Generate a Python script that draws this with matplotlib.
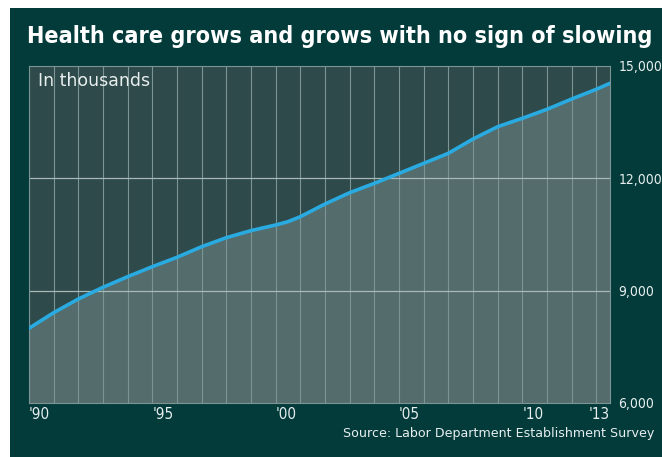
import matplotlib
matplotlib.use("Agg")
import matplotlib.pyplot as plt
import matplotlib.transforms as mtransforms
from matplotlib import font_manager
from matplotlib.patches import Rectangle
from matplotlib.ticker import FuncFormatter

# Health care employment, thousands
years = [1990, 1991, 1992, 1993, 1994, 1995, 1996, 1997, 1998, 1999,
         2000, 2000.5, 2001, 2002, 2003, 2004, 2005, 2006, 2007, 2008,
         2009, 2010, 2011, 2012, 2013, 2013.55]
jobs = [7995, 8412, 8778, 9090, 9374, 9641, 9891, 10175, 10415, 10604,
        10754, 10843, 10976, 11315, 11617, 11866, 12133, 12400, 12669, 13051,
        13380, 13604, 13844, 14120, 14379, 14539]

tick_years = [1990, 1995, 2000, 2005, 2010, 2013]
tick_labels = ["'90", "'95", "'00", "'05", "'10", "'13"]
y_ticks = [6000, 9000, 12000, 15000]

BG = "#033b3b"
UPPER = "#2e4a4a"
LOWER = "#546c6c"
GRID = "#7d9494"
HGRID = "#a9b9b9"
LINE = "#29abe2"
TEXT = "#e8eeee"

# pick a narrow face for the headline and axis numbers if one is installed
fonts = font_manager.fontManager.ttflist
names = {f.name for f in fonts}
if "Liberation Sans Narrow" in names:
    narrow = dict(family="Liberation Sans Narrow")
elif any(f.name == "DejaVu Sans" and f.stretch == "condensed" for f in fonts):
    narrow = dict(family="DejaVu Sans", stretch="condensed")
else:
    narrow = dict(family="DejaVu Sans")

W, H = 662, 457
fig = plt.figure(figsize=(W / 100, H / 100), dpi=100)
fig.patch.set_facecolor("white")
fig.patches.append(Rectangle((10 / W, 0), 1 - 10 / W, 1 - 8 / H,
                             transform=fig.transFigure, facecolor=BG,
                             edgecolor="none", zorder=-5))

ax = fig.add_axes([29 / W, 1 - 403 / H, (610 - 29) / W, (403 - 66) / H])
ax.set_zorder(2)
ax.set_facecolor(UPPER)
ax.fill_between(years, jobs, 6000, color=LOWER, lw=0, zorder=1)
for yr in range(1990, 2014):
    ax.axvline(yr, color=GRID, lw=0.8, zorder=2)
for v in [9000, 12000]:
    ax.axhline(v, color=HGRID, lw=0.9, zorder=2)
ax.plot(years, jobs, color=LINE, lw=2.6, solid_capstyle="round", zorder=3)

ax.set_xlim(1990, years[-1])
ax.set_ylim(6000, 15000)
for s in ax.spines.values():
    s.set_color(GRID)
    s.set_linewidth(0.8)

ax.set_xticks([])
ax.yaxis.tick_right()
ax.set_yticks(y_ticks)
ax.yaxis.set_major_formatter(FuncFormatter(lambda v, p: f"{v:,.0f}"))
ax.tick_params(axis="y", length=0, pad=6, labelcolor=TEXT, labelsize=10)
for lab in ax.get_yticklabels():
    lab.set(**narrow)

# year labels sit just right of their gridline; the last one hugs the edge
trans = mtransforms.blended_transform_factory(ax.transData, ax.transAxes)
for yr, lab in zip(tick_years, tick_labels):
    ha = "right" if yr == tick_years[-1] else "left"
    x = years[-1] if yr == tick_years[-1] else yr
    ax.text(x, -0.035, lab, transform=trans, ha=ha, va="center",
            color=TEXT, fontsize=11, **narrow)

ax.text(0.016, 0.955, "In thousands", transform=ax.transAxes, ha="left",
        va="center", color=TEXT, fontsize=12.5)

fig.text(654 / W, 1 - 433 / H, "Source: Labor Department Establishment Survey",
         ha="right", va="center", color=TEXT, fontsize=9.1)

title = fig.text(27 / W, 1 - 37 / H,
                 "Health care grows and grows with no sign of slowing",
                 ha="left", va="center", color="white", fontsize=22,
                 fontweight="bold", **narrow)
# fit headline to the panel width
fig.canvas.draw()
bb = title.get_window_extent()
title.set_fontsize(22 * (648 - 27) / bb.width)

fig.savefig("out.png", dpi=100)
